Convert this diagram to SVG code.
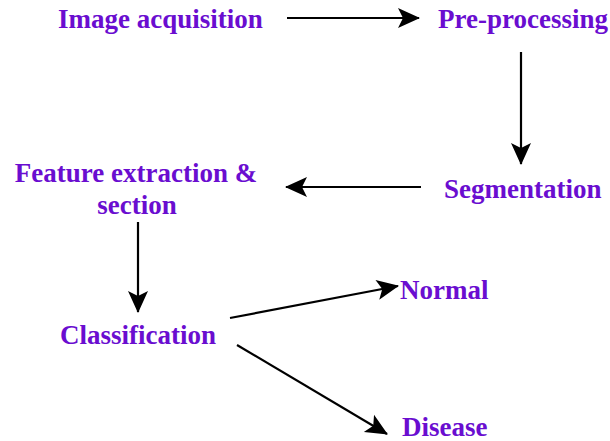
<svg xmlns="http://www.w3.org/2000/svg" width="610" height="441" viewBox="0 0 610 441">
<style>
.t{font-family:"Liberation Serif","Times New Roman",serif;font-weight:bold;font-size:27px;fill:#6a0dd0}
.c{stroke:#000;stroke-width:2.2;fill:none;marker-end:url(#ah)}
</style>
<defs>
<marker id="ah" markerUnits="userSpaceOnUse" markerWidth="26" markerHeight="22" refX="21" refY="10" orient="auto" overflow="visible">
<path d="M0,0 L22,10 L0,20 L5,10 Z" fill="#000"/>
</marker>
</defs>
<rect width="610" height="441" fill="#fff"/>
<g id="connectors">
<line class="c" x1="287" y1="18" x2="419" y2="18"/>
<line class="c" x1="521" y1="52" x2="521" y2="164"/>
<line class="c" x1="421" y1="187" x2="286" y2="187"/>
<line class="c" x1="138" y1="222" x2="138" y2="312"/>
<line class="c" x1="230" y1="318" x2="398" y2="286"/>
<line class="c" x1="237" y1="345" x2="387" y2="434"/>
</g>
<g id="image-acquisition"><text class="t" x="58" y="28">Image acquisition</text></g>
<g id="pre-processing"><text class="t" x="438" y="28">Pre-processing</text></g>
<g id="segmentation"><text class="t" x="444" y="198">Segmentation</text></g>
<g id="feature-extraction"><text class="t" x="136" y="182" text-anchor="middle">Feature extraction &amp;</text><text class="t" x="137" y="214" text-anchor="middle">section</text></g>
<g id="classification"><text class="t" x="60" y="344">Classification</text></g>
<g id="normal"><text class="t" x="400" y="299">Normal</text></g>
<g id="disease"><text class="t" x="402" y="436">Disease</text></g>
</svg>
